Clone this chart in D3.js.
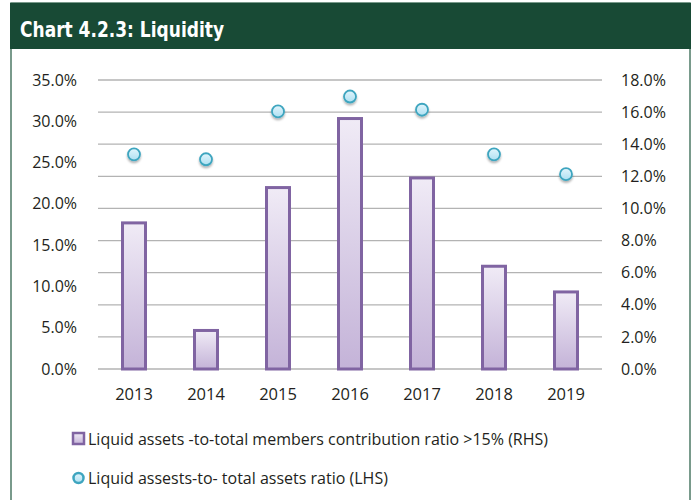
<!DOCTYPE html>
<html>
<head>
<meta charset="utf-8">
<script src="https://cdn.jsdelivr.net/npm/d3@7"></script>
<style>
  body { margin: 0; background: #fff; }
  text { font-family: "Open Sans", "Noto Sans", sans-serif; fill: #231f20; }
</style>
</head>
<body>
<svg id="drawing_region"></svg>
<script>
const years = ['2013', '2014', '2015', '2016', '2017', '2018', '2019'];
// bars, right axis (%)
const contribRatio = [9.1, 2.4, 11.3, 15.6, 11.9, 6.4, 4.8];
// circles, left axis (%)
const assetsRatio = [26.0, 25.4, 31.2, 33.0, 31.4, 26.0, 23.6];
const leftTicks = [0, 5, 10, 15, 20, 25, 30, 35];
const rightTicks = [0, 2, 4, 6, 8, 10, 12, 14, 16, 18];
const legendLabels = [
    'Liquid assets -to-total members contribution ratio >15% (RHS)',
    'Liquid assests-to- total assets ratio (LHS)'
];

const config = {
    width: 696,
    height: 500,
    margin: {top: 80, right: 94, bottom: 131, left: 98},
    title: 'Chart 4.2.3: Liquidity'
};

const svg = d3.select('#drawing_region')
    .attr('width', config.width)
    .attr('height', config.height);

const defs = svg.append('defs');
const barGrad = defs.append('linearGradient')
    .attr('id', 'barGrad').attr('x1', 0).attr('y1', 0).attr('x2', 0).attr('y2', 1);
barGrad.append('stop').attr('offset', '0%').attr('stop-color', '#f0ebf6');
barGrad.append('stop').attr('offset', '100%').attr('stop-color', '#c4b3d8');

const dotGrad = defs.append('linearGradient')
    .attr('id', 'dotGrad').attr('x1', 0).attr('y1', 0).attr('x2', 0).attr('y2', 1);
dotGrad.append('stop').attr('offset', '0%').attr('stop-color', '#e2f5fc');
dotGrad.append('stop').attr('offset', '100%').attr('stop-color', '#aee0f2');

const shadow = defs.append('filter').attr('id', 'shadow')
    .attr('x', '-50%').attr('y', '-50%').attr('width', '200%').attr('height', '200%');
shadow.append('feDropShadow')
    .attr('dx', 0).attr('dy', 2).attr('stdDeviation', 1.2)
    .attr('flood-color', '#000').attr('flood-opacity', 0.3);

// frame + header
svg.append('rect')
    .attr('x', 11).attr('y', 3).attr('width', 679).attr('height', 510)
    .attr('fill', 'none').attr('stroke', '#4d7a66').attr('stroke-width', 1.5);
svg.append('rect')
    .attr('x', 10).attr('y', 3).attr('width', 681).attr('height', 46)
    .attr('fill', '#184a35');
svg.append('text')
    .attr('x', 20).attr('y', 37)
    .attr('textLength', 204)
    .attr('lengthAdjust', 'spacingAndGlyphs')
    .style('font-family', '"Liberation Sans Narrow", "DejaVu Sans Condensed", "Roboto", sans-serif')
    .style('font-size', '22px')
    .style('font-weight', 'bold')
    .style('fill', '#fff')
    .text(config.title);

const inner_width = config.width - config.margin.left - config.margin.right;
const inner_height = config.height - config.margin.top - config.margin.bottom;

const chart = svg.append('g')
    .attr('transform', `translate(${config.margin.left}, ${config.margin.top})`);

const xscale = d3.scaleBand()
    .domain(years)
    .range([0, inner_width]);

const yleft = d3.scaleLinear().domain([0, 35]).range([inner_height, 0]);
const yright = d3.scaleLinear().domain([0, 18]).range([inner_height, 0]);

// gridlines follow the right axis
chart.append('g')
    .selectAll('line')
    .data(rightTicks)
    .join('line')
    .attr('x1', 0).attr('x2', inner_width)
    .attr('y1', d => yright(d)).attr('y2', d => yright(d))
    .attr('stroke', '#b3b3b3').attr('stroke-width', 1.3);

const fmt = d => d.toFixed(1) + '%';

const yaxisL = d3.axisLeft(yleft).tickValues(leftTicks).tickFormat(fmt).tickSize(0).tickPadding(21);
chart.append('g').call(yaxisL)
    .call(g => g.select('.domain').remove())
    .selectAll('text').style('font-size', '16px').attr('fill', '#231f20')
    .style('font-family', '"Open Sans", sans-serif');

const yaxisR = d3.axisRight(yright).tickValues(rightTicks).tickFormat(fmt).tickSize(0).tickPadding(19);
chart.append('g').attr('transform', `translate(${inner_width}, 0)`).call(yaxisR)
    .call(g => g.select('.domain').remove())
    .selectAll('text').style('font-size', '16px').attr('fill', '#231f20')
    .style('font-family', '"Open Sans", sans-serif');

const xaxis = d3.axisBottom(xscale).tickSize(0).tickPadding(19);
chart.append('g').attr('transform', `translate(0, ${inner_height})`).call(xaxis)
    .call(g => g.select('.domain').remove())
    .selectAll('text').style('font-size', '16.5px').attr('fill', '#231f20')
    .style('font-family', '"Open Sans", sans-serif');

const barW = 23;
chart.append('g')
    .selectAll('rect')
    .data(years)
    .join('rect')
    .attr('x', d => xscale(d) + xscale.bandwidth() / 2 - barW / 2)
    .attr('y', (d, i) => yright(contribRatio[i]))
    .attr('width', barW)
    .attr('height', (d, i) => inner_height - yright(contribRatio[i]))
    .attr('fill', 'url(#barGrad)')
    .attr('stroke', '#8064a2')
    .attr('stroke-width', 3);

chart.append('g')
    .selectAll('circle')
    .data(years)
    .join('circle')
    .attr('cx', d => xscale(d) + xscale.bandwidth() / 2)
    .attr('cy', (d, i) => yleft(assetsRatio[i]))
    .attr('r', 6)
    .attr('fill', 'url(#dotGrad)')
    .attr('stroke', '#3ea5bf')
    .attr('stroke-width', 1.8)
    .attr('filter', 'url(#shadow)');

// legend
const legend = svg.append('g');
legend.append('rect')
    .attr('x', 73).attr('y', 433).attr('width', 11).attr('height', 11)
    .attr('fill', 'url(#barGrad)').attr('stroke', '#8064a2').attr('stroke-width', 2.5);
legend.append('circle')
    .attr('cx', 78.5).attr('cy', 478).attr('r', 5)
    .attr('fill', 'url(#dotGrad)').attr('stroke', '#3ea5bf').attr('stroke-width', 2.5);
legend.selectAll('text.lbl')
    .data(legendLabels)
    .join('text')
    .attr('class', 'lbl')
    .attr('x', 88)
    .attr('y', (d, i) => 445 + i * 39)
    .style('font-size', '16px')
    .text(d => d);
</script>
</body>
</html>
